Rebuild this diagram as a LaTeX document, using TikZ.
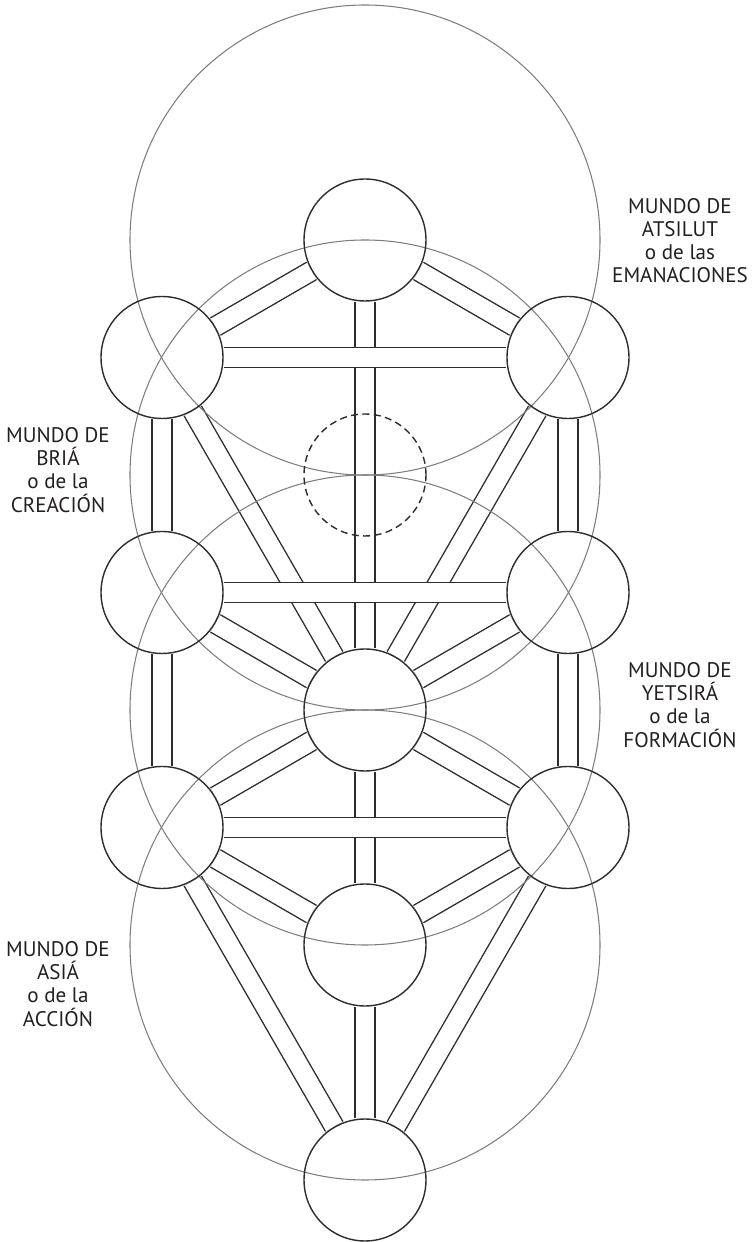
\documentclass[tikz,border=0pt]{standalone}
\usepackage{fontspec}
\setmainfont{PT Sans}
\usetikzlibrary{backgrounds}

\definecolor{linea}{RGB}{45,45,45}
\definecolor{gris}{RGB}{125,125,125}
\definecolor{texto}{RGB}{35,31,32}

\begin{document}
\begin{tikzpicture}[x=0.02cm,y=0.02cm,
        sefira/.style={circle,draw=linea,line width=0.8pt,minimum size=2.44cm,inner sep=0pt},
        sendero/.style={draw=linea,line width=0.8pt,double=white,double distance=10.5pt},
        mundo/.style={draw=gris,line width=0.6pt},
        rotulo/.style={align=center,text=texto,font=\fontsize{12}{13.2}\selectfont}]
        \useasboundingbox (0,0) rectangle (755,1242);

        % 十个圆 (和虚线的 Daat)
        \node[sefira] (keter) at (365,1002) {};
        \node[sefira] (jojma) at (568,884.5) {};
        \node[sefira] (bina) at (162,884.5) {};
        \node[sefira,dash pattern=on 4pt off 2.5pt] (daat) at (365,767) {};
        \node[sefira] (jesed) at (568,649.5) {};
        \node[sefira] (guevura) at (162,649.5) {};
        \node[sefira] (tiferet) at (365,532) {};
        \node[sefira] (netsaj) at (568,414.5) {};
        \node[sefira] (hod) at (162,414.5) {};
        \node[sefira] (yesod) at (365,297) {};
        \node[sefira] (maljut) at (365,62) {};

        \begin{scope}[on background layer]
            % 斜的和竖的路径
            \draw[sendero] (keter) -- (jojma);
            \draw[sendero] (keter) -- (bina);
            \draw[sendero] (keter) -- (tiferet);
            \draw[sendero] (jojma) -- (jesed);
            \draw[sendero] (bina) -- (guevura);
            \draw[sendero] (jojma) -- (tiferet);
            \draw[sendero] (bina) -- (tiferet);
            \draw[sendero] (jesed) -- (tiferet);
            \draw[sendero] (guevura) -- (tiferet);
            \draw[sendero] (jesed) -- (netsaj);
            \draw[sendero] (guevura) -- (hod);
            \draw[sendero] (tiferet) -- (netsaj);
            \draw[sendero] (tiferet) -- (hod);
            \draw[sendero] (tiferet) -- (yesod);
            \draw[sendero] (netsaj) -- (yesod);
            \draw[sendero] (hod) -- (yesod);
            \draw[sendero] (netsaj) -- (maljut);
            \draw[sendero] (hod) -- (maljut);
            \draw[sendero] (yesod) -- (maljut);

            % 横的路径 (盖住竖的)
            \draw[sendero] (bina) -- (jojma);
            \draw[sendero] (guevura) -- (jesed);
            \draw[sendero] (hod) -- (netsaj);

            % 四个世界
            \draw[mundo] (keter.center) circle[radius=235];
            \draw[mundo] (daat.center) circle[radius=235];
            \draw[mundo] (tiferet.center) circle[radius=235];
            \draw[mundo] (yesod.center) circle[radius=235];
        \end{scope}

        % 标签
        \node[rotulo] (atsilut) at (680,1001.5) {MUNDO DE\\ATSILUT\\o de las\\EMANACIONES};
        \node[rotulo] (bria) at (58,772) {MUNDO DE\\BRIÁ\\o de la\\CREACIÓN};
        \node[rotulo] (yetsira) at (680,537) {MUNDO DE\\YETSIRÁ\\o de la\\FORMACIÓN};
        \node[rotulo] (asia) at (58,258) {MUNDO DE\\ASIÁ\\o de la\\ACCIÓN};
    \end{tikzpicture}
\end{document}
